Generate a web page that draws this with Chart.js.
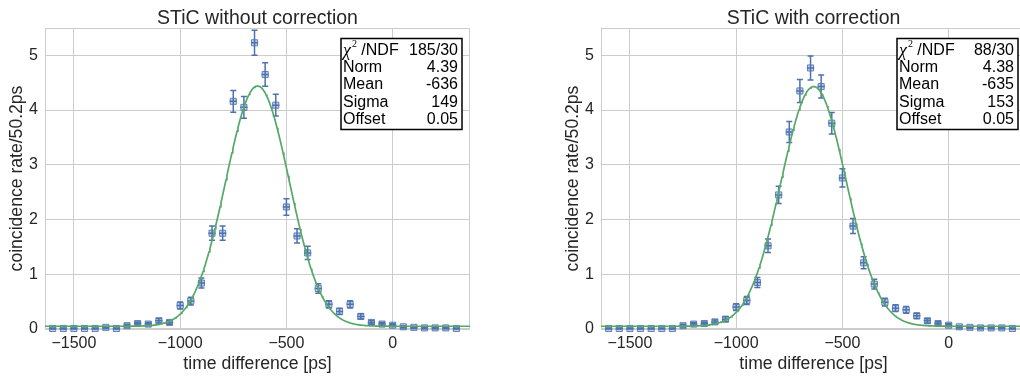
<!DOCTYPE html>
<html>
<head>
<meta charset="utf-8">
<script src="https://cdn.jsdelivr.net/npm/chart.js@4.4.1/dist/chart.umd.min.js"></script>
<style>
  html, body { margin: 0; padding: 0; background: #fff; overflow: hidden; }
  #wrap { position: relative; width: 1020px; height: 379px; overflow: hidden; }
  .panel { position: absolute; top: 0; width: 515px; height: 379px; }
</style>
</head>
<body>
<div id="wrap">
  <div class="panel" style="left:0"><canvas id="raw" width="515" height="379"></canvas></div>
  <div class="panel" style="left:556px"><canvas id="corr" width="515" height="379"></canvas></div>
</div>
<script>
// bin centres [ps]
const timeBins = [-1600, -1550, -1500, -1450, -1400, -1350, -1300, -1250, -1200, -1150,
  -1100, -1050, -1000, -950, -900, -850, -800, -750, -700, -650,
  -600, -550, -500, -450, -400, -350, -300, -250, -200, -150,
  -100, -50, 0, 50, 100, 150, 200, 250, 300];

// coincidence rate per 50.2 ps bin, uncorrected
const rateRaw = [0.01, 0.01, 0.01, 0.01, 0.01, 0.03, 0.01, 0.06, 0.10, 0.09,
  0.15, 0.12, 0.43, 0.51, 0.84, 1.75, 1.75, 4.16, 4.05, 5.23,
  4.65, 4.09, 2.23, 1.70, 1.39, 0.74, 0.45, 0.32, 0.45, 0.23,
  0.12, 0.09, 0.07, 0.04, 0.03, 0.02, 0.02, 0.02, 0.01];
const errRaw = [0.01, 0.01, 0.01, 0.01, 0.01, 0.015, 0.01, 0.025, 0.03, 0.03,
  0.04, 0.035, 0.065, 0.07, 0.09, 0.13, 0.13, 0.20, 0.20, 0.23,
  0.215, 0.20, 0.15, 0.13, 0.12, 0.085, 0.067, 0.057, 0.067, 0.048,
  0.035, 0.03, 0.026, 0.02, 0.017, 0.014, 0.014, 0.014, 0.01];

// coincidence rate per bin, with correction
const rateCorr = [0.01, 0.01, 0.01, 0.01, 0.01, 0.01, 0.01, 0.06, 0.09, 0.10,
  0.13, 0.18, 0.40, 0.52, 0.85, 1.52, 2.45, 3.60, 4.35, 4.77,
  4.43, 3.76, 2.76, 1.88, 1.21, 0.82, 0.49, 0.38, 0.35, 0.24,
  0.15, 0.10, 0.07, 0.04, 0.03, 0.02, 0.02, 0.02, 0.01];
const errCorr = [0.01, 0.01, 0.01, 0.01, 0.01, 0.01, 0.01, 0.025, 0.03, 0.03,
  0.036, 0.042, 0.063, 0.072, 0.092, 0.123, 0.157, 0.19, 0.21, 0.22,
  0.21, 0.195, 0.166, 0.137, 0.11, 0.09, 0.07, 0.062, 0.06, 0.049,
  0.039, 0.032, 0.026, 0.02, 0.017, 0.014, 0.014, 0.014, 0.01];

const xErr = 17; // horizontal error bar half length [ps]

const xTicks = [-1500, -1000, -500, 0];
const yTicks = [0, 1, 2, 3, 4, 5];

// gaussian fit: norm, mean, sigma, offset
const fitNames = ['Norm', 'Mean', 'Sigma', 'Offset'];
const fitRaw = [4.39, -636, 149, 0.05];
const fitCorr = [4.38, -635, 153, 0.05];
const chi2Raw = '185/30';
const chi2Corr = '88/30';

const BLUE = '#4c72b0';
const GREEN = '#55a868';
const GRID = '#cccccc';
const INK = '#262626';
const SANS = "'Liberation Sans', Arial, sans-serif";
const X_MIN = -1636, X_MAX = 364;

function gauss(p, x) {
  return p[0] * Math.exp(-0.5 * Math.pow((x - p[1]) / p[2], 2)) + p[3];
}

function fitCurve(p) {
  const pts = [];
  for (let x = X_MIN; x <= X_MAX; x += 4) pts.push({ x: x, y: gauss(p, x) });
  return pts;
}

function fmtFit(p) {
  return [p[0].toFixed(2), String(p[1]), String(p[2]), p[3].toFixed(2)];
}

const panelDecor = {
  id: 'panelDecor',
  beforeDatasetsDraw(chart) {
    const { ctx, chartArea: a } = chart;
    ctx.save();
    ctx.strokeStyle = GRID;
    ctx.lineWidth = 1;
    ctx.strokeRect(a.left + 0.5, a.top + 0.5, a.width - 1, a.height - 1);
    ctx.restore();
  },
  afterDatasetDraw(chart, args, opts) {
    if (args.index !== 0) return;
    const { ctx, scales: { x, y } } = chart;
    ctx.save();
    ctx.strokeStyle = BLUE;
    ctx.lineWidth = 1.5;
    ctx.beginPath();
    timeBins.forEach((t, i) => {
      const px = x.getPixelForValue(t);
      const py = y.getPixelForValue(opts.rates[i]);
      const top = y.getPixelForValue(opts.rates[i] + opts.errs[i]);
      const bot = y.getPixelForValue(opts.rates[i] - opts.errs[i]);
      ctx.moveTo(px, top); ctx.lineTo(px, bot);
      ctx.moveTo(px - 3, top); ctx.lineTo(px + 3, top);
      ctx.moveTo(px - 3, bot); ctx.lineTo(px + 3, bot);
      ctx.moveTo(x.getPixelForValue(t - xErr), py);
      ctx.lineTo(x.getPixelForValue(t + xErr), py);
    });
    ctx.stroke();
    ctx.restore();
  },
  afterDraw(chart, args, opts) {
    const { ctx, chartArea: a } = chart;
    ctx.save();
    // panel title
    ctx.fillStyle = INK;
    ctx.font = '19.5px ' + SANS;
    ctx.textAlign = 'center';
    ctx.textBaseline = 'alphabetic';
    ctx.fillText(opts.title, (a.left + a.right) / 2, 23.5);

    // fit statistics box
    const bx = a.left + 296, by = a.top + 10.5, bw = 121, bh = 91;
    ctx.fillStyle = '#fff';
    ctx.fillRect(bx, by, bw, bh);
    ctx.strokeStyle = '#000';
    ctx.lineWidth = 1.5;
    ctx.strokeRect(bx, by, bw, bh);

    ctx.fillStyle = '#000';
    ctx.textBaseline = 'middle';
    const rowY = i => by + 12 + i * 17.2;
    // chi2 row
    ctx.textAlign = 'left';
    ctx.font = 'italic 18px "Liberation Serif", serif';
    ctx.fillText('\u03c7', bx + 2, rowY(0) + 1);
    let cx = bx + 2 + ctx.measureText('\u03c7').width;
    ctx.font = '10px "Liberation Serif", serif';
    ctx.fillText('2', cx + 1, rowY(0) - 6);
    cx += 1 + ctx.measureText('2').width;
    ctx.font = '16px ' + SANS;
    ctx.fillText(' /NDF', cx, rowY(0));
    ctx.textAlign = 'right';
    ctx.fillText(opts.chi2, bx + bw - 4, rowY(0));

    const vals = fmtFit(opts.fit);
    fitNames.forEach((name, i) => {
      ctx.textAlign = 'left';
      ctx.fillText(name, bx + 2, rowY(i + 1));
      ctx.textAlign = 'right';
      ctx.fillText(vals[i], bx + bw - 4, rowY(i + 1));
    });
    ctx.restore();
  }
};

function makePanel(id, title, rates, errs, fit, chi2) {
  const ctx = document.getElementById(id).getContext('2d');
  return new Chart(ctx, {
    type: 'scatter',
    data: {
      datasets: [
        {
          data: timeBins.map((t, i) => ({ x: t, y: rates[i] })),
          showLine: false,
          pointStyle: 'rect',
          pointRadius: 4.3,
          backgroundColor: 'rgba(76, 114, 176, 0.35)',
          borderColor: 'rgba(76, 114, 176, 0.85)',
          borderWidth: 1,
          clip: false,
          order: 1,
        },
        {
          data: fitCurve(fit),
          showLine: true,
          borderColor: GREEN,
          borderWidth: 1.7,
          pointRadius: 0,
          fill: false,
          tension: 0,
          order: 0,
        },
      ],
    },
    options: {
      responsive: false,
      animation: false,
      events: [],
      layout: { padding: { top: 28, right: 45, left: 0, bottom: 0 } },
      scales: {
        x: {
          type: 'linear',
          min: X_MIN,
          max: X_MAX,
          afterFit: s => { s.height = 50; },
          afterBuildTicks: s => { s.ticks = xTicks.map(v => ({ value: v })); },
          grid: { color: GRID, drawTicks: false },
          border: { display: false },
          ticks: {
            color: INK,
            font: { family: SANS, size: 16 },
            padding: 5,
            maxRotation: 0,
            callback: v => String(v).replace('-', '\u2212'),
          },
          title: {
            display: true,
            text: 'time difference [ps]',
            color: INK,
            font: { family: SANS, size: 17.6 },
            padding: { top: 0, bottom: 4.4 },
          },
        },
        y: {
          type: 'linear',
          min: 0,
          max: 5.5,
          afterFit: s => { s.width = 45; },
          afterBuildTicks: s => { s.ticks = yTicks.map(v => ({ value: v })); },
          grid: { color: GRID, drawTicks: false },
          border: { display: false },
          ticks: {
            color: INK,
            font: { family: SANS, size: 16 },
            padding: 7,
            callback: v => String(v),
          },
          title: {
            display: true,
            text: 'coincidence rate/50.2ps',
            color: INK,
            font: { family: SANS, size: 17.6 },
            padding: { top: 6.4, bottom: 0 },
          },
        },
      },
      plugins: {
        legend: { display: false },
        tooltip: { enabled: false },
        panelDecor: { title: title, rates: rates, errs: errs, fit: fit, chi2: chi2 },
      },
    },
    plugins: [panelDecor],
  });
}

makePanel('raw', 'STiC without correction', rateRaw, errRaw, fitRaw, chi2Raw);
makePanel('corr', 'STiC with correction', rateCorr, errCorr, fitCorr, chi2Corr);
</script>
</body>
</html>
